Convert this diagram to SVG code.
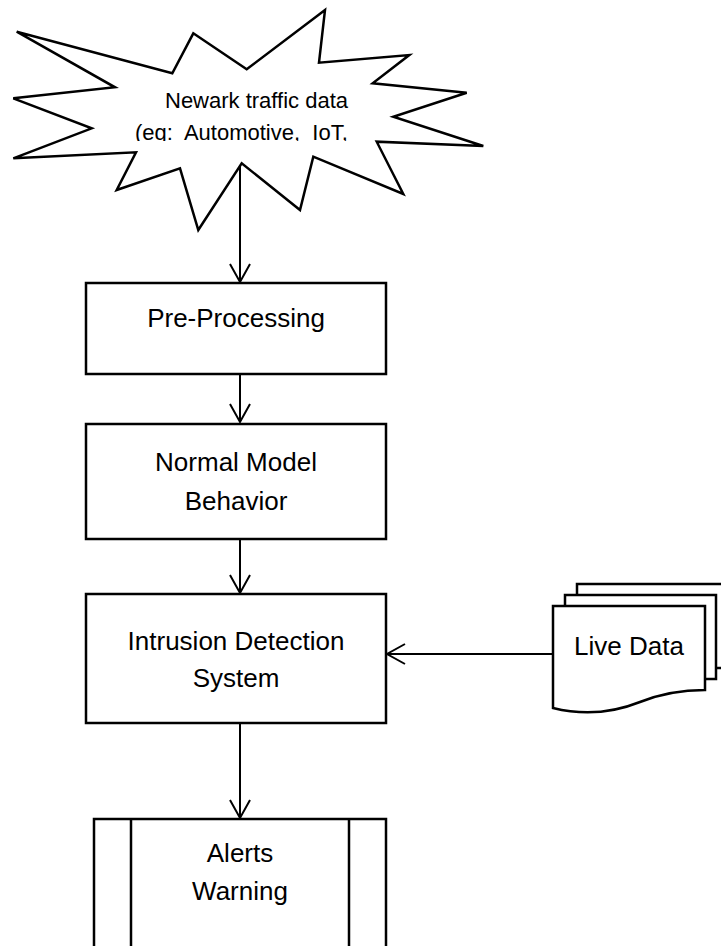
<svg xmlns="http://www.w3.org/2000/svg" width="721" height="946" viewBox="0 0 721 946">
<style>
.shape{fill:#fff;stroke:#000;stroke-width:2.5;stroke-linejoin:miter}
.line{fill:none;stroke:#000;stroke-width:2}
.t{font-family:"Liberation Sans",Arial,sans-serif;font-size:26px;fill:#000;text-anchor:middle}
.st{font-family:"Liberation Sans",Arial,sans-serif;font-size:22px;fill:#000;white-space:pre}
</style>
<defs>
<marker id="arr" markerWidth="24" markerHeight="24" refX="20" refY="11" orient="auto" markerUnits="userSpaceOnUse">
<path d="M2,1 L20,11 L2,21" fill="none" stroke="#000" stroke-width="2"/>
</marker>
<clipPath id="starclip"><rect x="0" y="0" width="721" height="141"/></clipPath>
</defs>
<g id="connectors">
<line class="line" x1="240" y1="165" x2="240" y2="282" marker-end="url(#arr)"/>
<line class="line" x1="240" y1="374" x2="240" y2="422" marker-end="url(#arr)"/>
<line class="line" x1="240" y1="539" x2="240" y2="593" marker-end="url(#arr)"/>
<line class="line" x1="553" y1="654" x2="387" y2="654" marker-end="url(#arr)"/>
<line class="line" x1="240" y1="723" x2="240" y2="818" marker-end="url(#arr)"/>
</g>
<g id="star">
<polygon class="shape" points="16.7,31.7 172.3,73.3 193.3,33.3 246.7,69.3 325,10 319,62.7 409.3,55 372.7,83.3 466.7,92.7 393.3,116.7 483.3,146 376.7,141.7 403.3,194 313.3,156.7 300,210 241.7,163.3 198.3,230 180,168.3 116.7,190 136,152.3 13.3,158.3 91.7,128.3 13.3,98.3 115,87.3"/>
<g clip-path="url(#starclip)">
<text class="st" x="165" y="108">Newark traffic data</text>
<text class="st" x="135" y="140">(eg:  Automotive,  IoT,</text>
</g>
</g>
<g id="preprocessing">
<rect class="shape" x="86" y="283" width="300" height="91"/>
<text class="t" x="236" y="327">Pre-Processing</text>
</g>
<g id="normal-model">
<rect class="shape" x="86" y="424" width="300" height="115"/>
<text class="t" x="236" y="471">Normal Model</text>
<text class="t" x="236" y="510">Behavior</text>
</g>
<g id="ids">
<rect class="shape" x="86" y="594" width="300" height="129"/>
<text class="t" x="236" y="650">Intrusion Detection</text>
<text class="t" x="236" y="687">System</text>
</g>
<g id="live-data">
<rect class="shape" x="577" y="584" width="151" height="84"/>
<rect class="shape" x="565" y="595" width="151" height="84"/>
<path class="shape" d="M553,606 H705 V690 C680,690 660,694 640,702 C615,712 585,716 553,708 Z"/>
<text class="t" x="629" y="655">Live Data</text>
</g>
<g id="alerts">
<rect class="shape" x="94" y="819" width="292" height="140"/>
<line class="line" style="stroke-width:2.5" x1="131" y1="819" x2="131" y2="946"/>
<line class="line" style="stroke-width:2.5" x1="349" y1="819" x2="349" y2="946"/>
<text class="t" x="240" y="862">Alerts</text>
<text class="t" x="240" y="900">Warning</text>
</g>
</svg>
